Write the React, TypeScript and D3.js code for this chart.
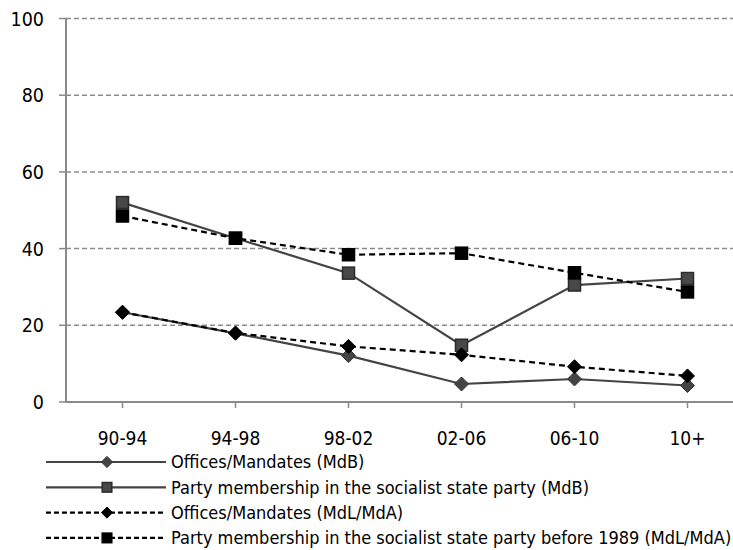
import React from "react";
import * as d3 from "d3";

// Legislative periods on the x axis
const periods = ["90-94", "94-98", "98-02", "02-06", "06-10", "10+"];

// Shares in percent per period
const officesMdB = [23.4, 17.9, 12.1, 4.7, 6.0, 4.3];
const partyMdB = [52.0, 42.7, 33.6, 14.8, 30.5, 32.2];
const officesMdL = [23.4, 18.0, 14.5, 12.3, 9.2, 6.8];
const partyMdL = [48.5, 42.7, 38.4, 38.8, 33.7, 28.7];

const yTicks = [0, 20, 40, 60, 80, 100];

const seriesLabels = [
  "Offices/Mandates (MdB)",
  "Party membership in the socialist state party (MdB)",
  "Offices/Mandates (MdL/MdA)",
  "Party membership in the socialist state party before 1989 (MdL/MdA)",
];

type Series = {
  label: string;
  values: number[];
  color: string;
  dashed: boolean;
  marker: "diamond" | "square";
};

const series: Series[] = [
  { label: seriesLabels[0], values: officesMdB, color: "#444", dashed: false, marker: "diamond" },
  { label: seriesLabels[1], values: partyMdB, color: "#444", dashed: false, marker: "square" },
  { label: seriesLabels[2], values: officesMdL, color: "#000", dashed: true, marker: "diamond" },
  { label: seriesLabels[3], values: partyMdL, color: "#000", dashed: true, marker: "square" },
];

const W = 733;
const H = 550;
const FONT = "'DejaVu Sans Condensed', 'DejaVu Sans', sans-serif";

function Marker({ kind, x, y, s, scale = 1 }: { kind: "diamond" | "square"; x: number; y: number; s: Series; scale?: number }) {
  const black = s.color === "#000";
  if (kind === "diamond") {
    const r = 7 * scale;
    return (
      <path
        d={`M${x},${y - r}L${x + r},${y}L${x},${y + r}L${x - r},${y}Z`}
        fill={black ? "#000" : "#444"}
        stroke={black ? "#000" : "#333"}
        strokeWidth={1}
      />
    );
  }
  const h = 6 * scale;
  return (
    <rect
      x={x - h}
      y={y - h}
      width={2 * h}
      height={2 * h}
      fill={black ? "#000" : "#484848"}
      stroke={black ? "#000" : "#2a2a2a"}
      strokeWidth={1.5}
    />
  );
}

export default function App() {
  const left = 66;
  const top = 18.5;
  const bottom = 402;
  const step = 113;

  const x = d3
    .scaleBand<string>()
    .domain(periods)
    .range([left, left + step * periods.length])
    .padding(0);
  const cx = (p: string) => (x(p) as number) + x.bandwidth() / 2;
  const y = d3.scaleLinear().domain([0, 100]).range([bottom, top]);

  const line = d3
    .line<number>()
    .x((_, i) => cx(periods[i]))
    .y((v) => y(v));

  const legendTop = 462;
  const legendStep = 25.3;

  return (
    <svg
      width={W}
      height={H}
      style={{ position: "absolute", left: 0, top: 0, background: "#fff" }}
      fontFamily={FONT}
    >
      {/* horizontal grid */}
      {yTicks.filter((t) => t > 0).map((t) => (
        <line
          key={t}
          x1={left}
          x2={W}
          y1={y(t)}
          y2={y(t)}
          stroke="#8a8a8a"
          strokeWidth={1.5}
          strokeDasharray="5,3"
        />
      ))}
      {/* y axis */}
      <line x1={left} x2={left} y1={top} y2={bottom} stroke="#8a8a8a" strokeWidth={2} />
      {yTicks.map((t) => (
        <g key={t}>
          <line x1={left - 7} x2={left} y1={y(t)} y2={y(t)} stroke="#8a8a8a" strokeWidth={1.5} />
          <text x={44} y={y(t)} dy="0.36em" textAnchor="end" fontSize={19.5} fill="#000">
            {t}
          </text>
        </g>
      ))}
      {/* x axis */}
      <line x1={left} x2={W} y1={bottom} y2={bottom} stroke="#8a8a8a" strokeWidth={2} />
      {periods.map((p) => (
        <g key={p}>
          <line x1={cx(p)} x2={cx(p)} y1={bottom} y2={bottom + 6} stroke="#8a8a8a" strokeWidth={1.5} />
          <text x={cx(p)} y={438} dy="0.36em" textAnchor="middle" fontSize={19} fill="#000">
            {p}
          </text>
        </g>
      ))}
      {/* series lines */}
      {series.map((s, i) => (
        <path
          key={"l" + i}
          d={line(s.values) || ""}
          fill="none"
          stroke={s.color}
          strokeWidth={2.2}
          strokeDasharray={s.dashed ? "6,4" : undefined}
        />
      ))}
      {/* series markers */}
      {series.map((s, i) => (
        <g key={"m" + i}>
          {s.values.map((v, j) => (
            <Marker key={j} kind={s.marker} x={cx(periods[j])} y={y(v)} s={s} />
          ))}
        </g>
      ))}
      {/* legend */}
      {series.map((s, i) => {
        const ly = legendTop + i * legendStep;
        return (
          <g key={"lg" + i}>
            <line
              x1={46}
              x2={166}
              y1={ly}
              y2={ly}
              stroke={s.color}
              strokeWidth={2.2}
              strokeDasharray={s.dashed ? "5,3" : undefined}
            />
            <Marker kind={s.marker} x={107} y={ly} s={s} scale={0.8} />
            <text x={171} y={ly} dy="0.36em" fontSize={18} fill="#000">
              {s.label}
            </text>
          </g>
        );
      })}
    </svg>
  );
}
